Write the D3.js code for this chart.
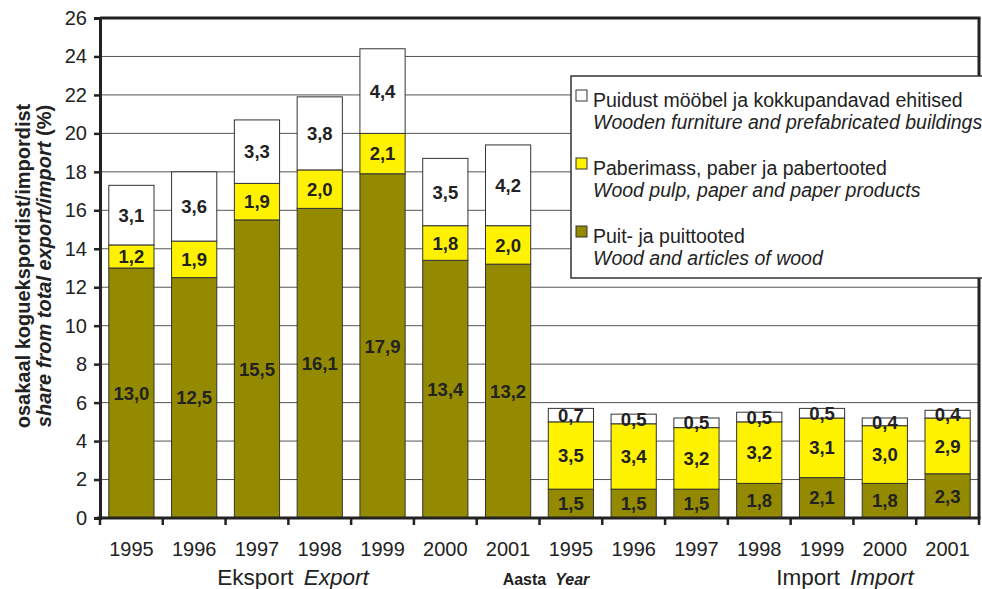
<!DOCTYPE html>
<html lang="et">
<head>
<meta charset="UTF-8">
<title>Puit ja puittooted</title>
<script src="https://d3js.org/d3.v7.min.js"></script>
<style>
  body { margin: 0; background: #fff; }
  svg text { font-family: "Liberation Sans", Arial, sans-serif; fill: #222; }
  .tick-label { font-size: 20px; }
  .bar-label { font-size: 18.5px; font-weight: bold; text-anchor: middle; }
</style>
</head>
<body>
<script>
// data
const years = ["1995", "1996", "1997", "1998", "1999", "2000", "2001"];
const groups = ["Eksport", "Import"];
const wood      = [13.0, 12.5, 15.5, 16.1, 17.9, 13.4, 13.2, 1.5, 1.5, 1.5, 1.8, 2.1, 1.8, 2.3];
const paper     = [1.2, 1.9, 1.9, 2.0, 2.1, 1.8, 2.0, 3.5, 3.4, 3.2, 3.2, 3.1, 3.0, 2.9];
const furniture = [3.1, 3.6, 3.3, 3.8, 4.4, 3.5, 4.2, 0.7, 0.5, 0.5, 0.5, 0.5, 0.4, 0.4];
const yTicks = [0, 2, 4, 6, 8, 10, 12, 14, 16, 18, 20, 22, 24, 26];

const series = [
  {key: "wood", values: wood, color: "#948a00",
   et: "Puit- ja puittooted", en: "Wood and articles of wood"},
  {key: "paper", values: paper, color: "#fff200",
   et: "Paberimass, paber ja pabertooted", en: "Wood pulp, paper and paper products"},
  {key: "furniture", values: furniture, color: "#ffffff",
   et: "Puidust mööbel ja kokkupandavad ehitised", en: "Wooden furniture and prefabricated buildings"}
];

// one row per bar
const rows = [];
groups.forEach(g => years.forEach(y => rows.push({group: g, year: y})));
rows.forEach((r, i) => series.forEach(s => r[s.key] = s.values[i]));

const W = 982, H = 589;
const plotL = 100, plotR = 979, plotT = 18, plotB = 518;

const svg = d3.select("body").append("svg")
  .attr("width", W).attr("height", H);

const x = d3.scaleBand()
  .domain(rows.map((d, i) => i))
  .range([plotL, plotR])
  .paddingInner(0.28)
  .paddingOuter(0.14);

const y = d3.scaleLinear().domain([0, 26]).range([plotB, plotT]);

// gridlines
svg.append("g")
  .selectAll("line")
  .data(yTicks.filter(t => t > 0 && t < 26))
  .join("line")
  .attr("x1", plotL).attr("x2", plotR)
  .attr("y1", d => y(d)).attr("y2", d => y(d))
  .attr("stroke", "#555").attr("stroke-width", 1);

// stacked bars
const stack = d3.stack().keys(series.map(s => s.key));
const stacked = stack(rows);

const layers = svg.append("g")
  .selectAll("g")
  .data(stacked)
  .join("g")
  .attr("fill", (d, i) => series[i].color);

layers.selectAll("rect")
  .data(d => d)
  .join("rect")
  .attr("x", (d, i) => x(i))
  .attr("width", x.bandwidth())
  .attr("y", d => y(d[1]))
  .attr("height", d => y(d[0]) - y(d[1]))
  .attr("stroke", "#333")
  .attr("stroke-width", 1);

const fmt = v => d3.format(".1f")(v).replace(".", ",");

layers.selectAll("text")
  .data(d => d)
  .join("text")
  .attr("class", "bar-label")
  .attr("x", (d, i) => x(i) + x.bandwidth() / 2)
  .attr("y", d => (y(d[0]) + y(d[1])) / 2)
  .attr("dy", "0.36em")
  .text(d => fmt(d[1] - d[0]));

// frame top and right
svg.append("line").attr("x1", plotL).attr("x2", plotR + 1.5)
  .attr("y1", plotT).attr("y2", plotT)
  .attr("stroke", "#222").attr("stroke-width", 3);
svg.append("line").attr("x1", plotR).attr("x2", plotR)
  .attr("y1", plotT).attr("y2", plotB)
  .attr("stroke", "#222").attr("stroke-width", 3);

// y axis
const yAxis = svg.append("g")
  .attr("transform", `translate(${plotL},0)`)
  .call(d3.axisLeft(y).tickValues(yTicks).tickSize(6).tickPadding(7).tickFormat(d3.format("d")));
yAxis.select(".domain").attr("stroke", "#222").attr("stroke-width", 3);
yAxis.selectAll(".tick line").attr("stroke", "#222").attr("stroke-width", 2.5);
yAxis.selectAll(".tick text").attr("class", "tick-label")
  .style("font-family", "'Liberation Sans', Arial, sans-serif").attr("fill", "#222");

// x axis: ticks at band boundaries
const step = x.step();
const x0 = x.range()[0];
const boundaries = d3.range(rows.length + 1).map(i => x0 + i * step);
svg.append("line").attr("x1", plotL - 3).attr("x2", plotR + 1.5)
  .attr("y1", plotB).attr("y2", plotB)
  .attr("stroke", "#222").attr("stroke-width", 3);
svg.append("g").selectAll("line")
  .data(boundaries)
  .join("line")
  .attr("x1", d => d).attr("x2", d => d)
  .attr("y1", plotB).attr("y2", plotB + 7)
  .attr("stroke", "#222").attr("stroke-width", 2.5);

svg.append("g").selectAll("text")
  .data(rows)
  .join("text")
  .attr("class", "tick-label")
  .attr("x", (d, i) => x(i) + x.bandwidth() / 2)
  .attr("y", 556)
  .attr("text-anchor", "middle")
  .text(d => d.year);

// group titles
const gt1 = svg.append("text").attr("x", 293).attr("y", 585)
  .attr("text-anchor", "middle").style("font-size", "22.5px");
gt1.append("tspan").text("Eksport");
gt1.append("tspan").attr("dx", 10).style("font-style", "italic").text("Export");

const gt2 = svg.append("text").attr("x", 845).attr("y", 585)
  .attr("text-anchor", "middle").style("font-size", "22.5px");
gt2.append("tspan").text("Import");
gt2.append("tspan").attr("dx", 10).style("font-style", "italic").text("Import");

const at = svg.append("text").attr("x", 546).attr("y", 585)
  .attr("text-anchor", "middle").style("font-size", "16px").style("font-weight", "bold");
at.append("tspan").text("Aasta");
at.append("tspan").attr("dx", 9).style("font-style", "italic").text("Year");

// y title
const yt = svg.append("g").attr("transform", "translate(0,266) rotate(-90)");
yt.append("text").attr("x", 0).attr("y", 30).attr("text-anchor", "middle")
  .style("font-size", "20px").style("font-weight", "bold")
  .text("osakaal koguekspordist/impordist");
const yt2 = yt.append("text").attr("x", 0).attr("y", 51).attr("text-anchor", "middle")
  .style("font-size", "20px").style("font-weight", "bold");
yt2.append("tspan").style("font-style", "italic").text("share from total export/import");
yt2.append("tspan").text(" (%)");

// legend
const legend = svg.append("g");
legend.append("rect")
  .attr("x", 571).attr("y", 76).attr("width", 430).attr("height", 202)
  .attr("fill", "#fff").attr("stroke", "#333").attr("stroke-width", 1.5);

const legendOrder = series.slice().reverse();
const lg = legend.selectAll("g")
  .data(legendOrder)
  .join("g")
  .attr("transform", (d, i) => `translate(576,${90 + i * 68})`);
lg.append("rect")
  .attr("width", 11).attr("height", 11)
  .attr("fill", d => d.color).attr("stroke", "#333").attr("stroke-width", 1);
lg.append("text").attr("x", 17).attr("y", 17)
  .style("font-size", "19.5px").text(d => d.et);
lg.append("text").attr("x", 17).attr("y", 39)
  .style("font-size", "19.5px").style("font-style", "italic").text(d => d.en);
</script>
</body>
</html>
